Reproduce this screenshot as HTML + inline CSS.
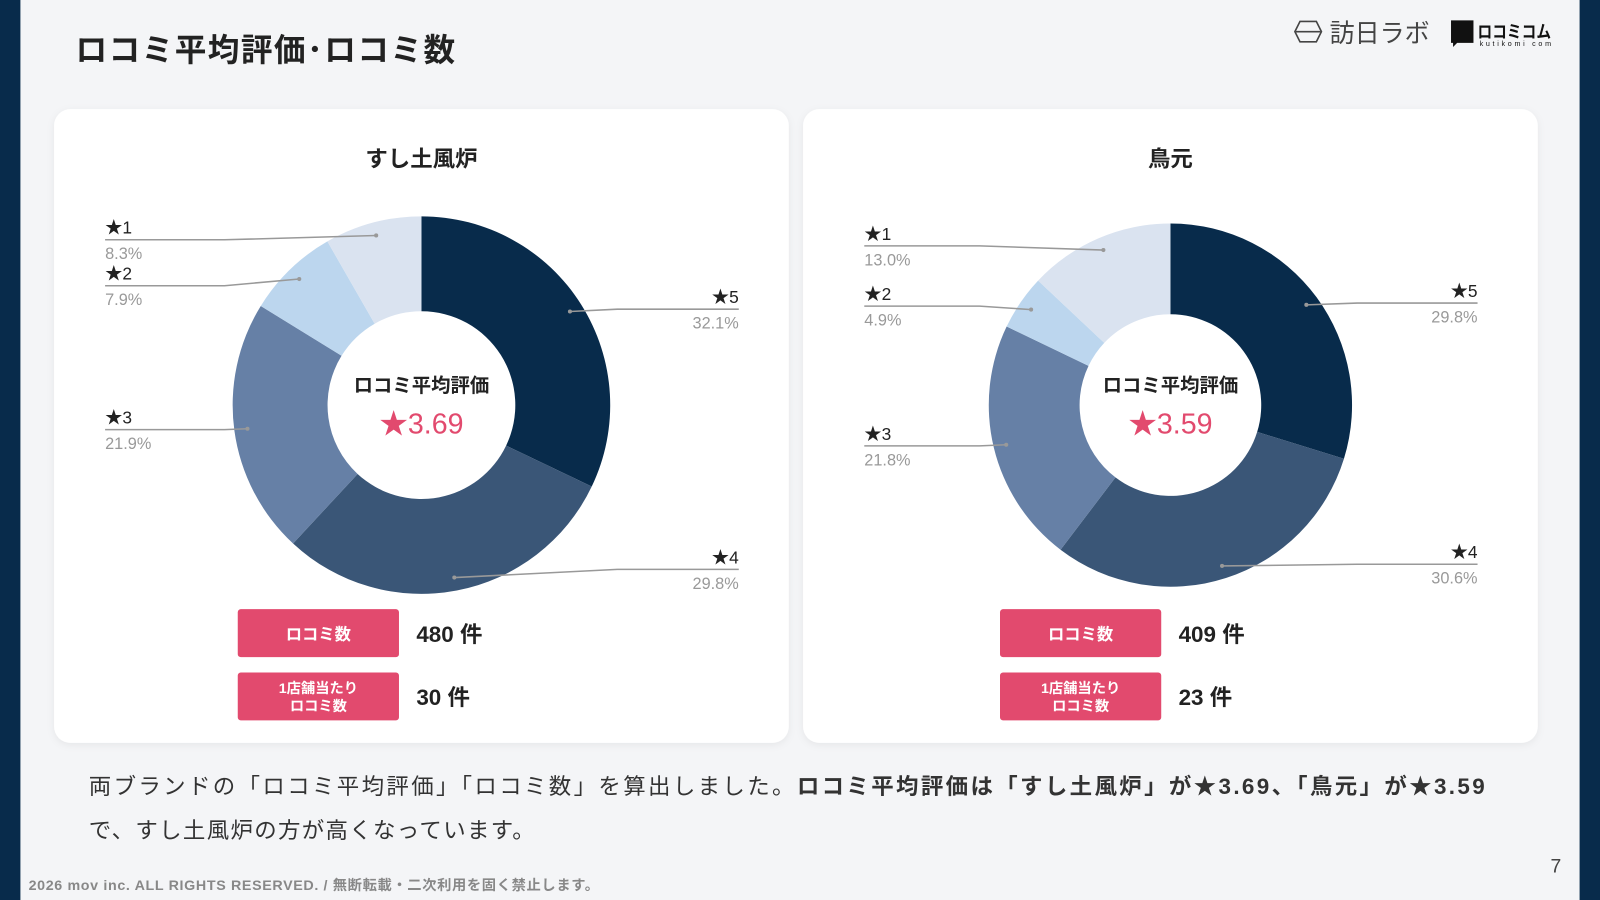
<!DOCTYPE html>
<html><head><meta charset="utf-8">
<style>
html,body{margin:0;padding:0;background:#f4f5f7;}
svg{display:block;font-family:"Liberation Sans","Noto Sans CJK JP",sans-serif;}
</style></head>
<body>
<svg id="root" width="1600" height="900" viewBox="0 0 1568 882" preserveAspectRatio="none" xmlns="http://www.w3.org/2000/svg">
<defs>
<filter id="sh" x="-5%" y="-5%" width="110%" height="110%"><feDropShadow dx="0" dy="2" stdDeviation="4" flood-color="#000" flood-opacity="0.06"/></filter>
</defs>
<rect x="0" y="0" width="1568" height="882" fill="#f4f5f7"/>
<rect x="0" y="0" width="20" height="882" fill="#082b4b"/>
<rect x="1548" y="0" width="20" height="882" fill="#082b4b"/>
<text x="74" y="60" font-size="31" font-weight="bold" fill="#222" textLength="372" lengthAdjust="spacing">ロコミ平均評価･ロコミ数</text>
<g>
<polygon points="1274,21 1290,21 1295,31 1290,41 1274,41 1269,31" fill="none" stroke="#444" stroke-width="1.6"/>
<line x1="1270" y1="31" x2="1294" y2="31" stroke="#444" stroke-width="1.6"/>
<text x="1303" y="41" font-size="25" fill="#444" textLength="98" lengthAdjust="spacingAndGlyphs">訪日ラボ</text>
</g>
<g>
<path d="M1422,20 h22 v22 h-16 l-4,4 v-4 h-2 z" fill="#111"/>
<text x="1448" y="37" font-size="17" font-weight="bold" fill="#111" textLength="72" lengthAdjust="spacingAndGlyphs">ロコミコム</text>
<text x="1450" y="45" font-size="7" fill="#111" textLength="70" lengthAdjust="spacing">kutikomi com</text>
</g>
<rect x="53" y="107" width="720" height="621" rx="16" fill="#fff" filter="url(#sh)"/>
<rect x="787" y="107" width="720" height="621" rx="16" fill="#fff" filter="url(#sh)"/>
<g id="charts"></g>
<g font-size="22" fill="#333">
<text x="87" y="778" textLength="1368" lengthAdjust="spacing">両ブランドの「ロコミ平均評価」「ロコミ数」を算出しました。<tspan font-weight="bold">ロコミ平均評価は「すし土風炉」が★3.69、「鳥元」が★3.59</tspan></text>
<text x="87" y="821" textLength="437" lengthAdjust="spacing">で、すし土風炉の方が高くなっています。</text>
</g>
<text x="28" y="872" font-size="14" fill="#888" font-weight="bold" textLength="559" lengthAdjust="spacing">2026 mov inc. ALL RIGHTS RESERVED. / 無断転載・二次利用を固く禁止します。</text>
<text x="1530" y="855" font-size="19" fill="#444" text-anchor="end">7</text>
</svg>
<script>
// chart data
const categories = ["★5","★4","★3","★2","★1"];
const sushiValues = [32.1, 29.8, 21.9, 7.9, 8.3];
const toriValues = [29.8, 30.6, 21.8, 4.9, 13.0];
const brandNames = ["すし土風炉","鳥元"];
const avgRatings = ["★3.69","★3.59"];
const reviewCounts = [480, 409];
const perStoreCounts = [30, 23];

const colors = ["#082b4b","#3a5677","#6680a6","#bcd6ee","#dae3f0"];
const NS = "http://www.w3.org/2000/svg";
const root = document.getElementById('charts');
function mk(tag, attrs, parent){const e=document.createElementNS(NS,tag);for(const k in attrs)e.setAttribute(k,attrs[k]);(parent||root).appendChild(e);return e;}

// layout (not data)
const layouts = [
 {cx:413, cy:397, R:185, r:92, leftX:103, rightX:724, elbowL:220, elbowR:605, lineY:[303,558,421,280,235], bx:233},
 {cx:1147, cy:397, R:178, r:89, leftX:847, rightX:1448, elbowL:960, elbowR:1330, lineY:[297,553,437,300,241], bx:980}
];
const allValues = [sushiValues, toriValues];

function angleToXY(cx,cy,rad,a){return [cx+rad*Math.sin(a), cy-rad*Math.cos(a)];}

allValues.forEach((vals, ci) => {
  const L = layouts[ci];
  const g = mk('g', {});
  
  
  const total = vals.reduce((s,v)=>s+v,0);
  let a0 = 0;
  vals.forEach((v, i) => {
    const a1 = a0 + v/total*2*Math.PI;
    const [x0,y0]=angleToXY(L.cx,L.cy,L.R,a0),[x1,y1]=angleToXY(L.cx,L.cy,L.R,a1);
    const [x2,y2]=angleToXY(L.cx,L.cy,L.r,a1),[x3,y3]=angleToXY(L.cx,L.cy,L.r,a0);
    const large = (a1-a0)>Math.PI?1:0;
    const p = mk('path', {d:`M${x0},${y0} A${L.R},${L.R} 0 ${large} 1 ${x1},${y1} L${x2},${y2} A${L.r},${L.r} 0 ${large} 0 ${x3},${y3} Z`, fill:colors[i]}, g);
    
    
    const am = (a0+a1)/2;
    const [dx,dy] = angleToXY(L.cx,L.cy,L.R*0.93,am);
    const right = Math.sin(am) > 0;
    const ly = L.lineY[i];
    const lx = right ? L.rightX : L.leftX;
    const ex = right ? L.elbowR : L.elbowL;
    const ln = mk('polyline', {points:`${lx},${ly} ${ex},${ly} ${dx},${dy}`, fill:'none', stroke:'#999', 'stroke-width':1.5}, g);
    
    
    mk('circle', {cx:dx, cy:dy, r:2, fill:'#999'}, g);
    const anchor = right ? 'end' : 'start';
    const t1 = mk('text', {x:lx, y:ly-6, 'font-size':17, fill:'#222', 'text-anchor':anchor}, g);
    t1.textContent = categories[i];
    
    
    const t2 = mk('text', {x:lx, y:ly+19, 'font-size':16, fill:'#999', 'text-anchor':anchor}, g);
    t2.textContent = v.toFixed(1) + '%';
    
    
    a0 = a1;
  });
  const title = mk('text', {x:L.cx, y:163, 'font-size':22, 'font-weight':'bold', fill:'#222', 'text-anchor':'middle'}, g);
  title.textContent = brandNames[ci];
  
  
  const c1 = mk('text', {x:L.cx, y:384, 'font-size':19, 'font-weight':'bold', fill:'#222', 'text-anchor':'middle'}, g);
  c1.textContent = 'ロコミ平均評価';
  
  
  const c2 = mk('text', {x:L.cx, y:425, 'font-size':28, fill:'#e24a6e', 'text-anchor':'middle'}, g);
  c2.textContent = avgRatings[ci];
  
  
  const bx = L.bx;
  const b1 = mk('rect', {x:bx, y:597, width:158, height:47, rx:3, fill:'#e24a6e'}, g);
  
  
  const bt1 = mk('text', {x:bx+79, y:627, 'font-size':16, 'font-weight':'bold', fill:'#fff', 'text-anchor':'middle'}, g);
  bt1.textContent = 'ロコミ数';
  const b2 = mk('rect', {x:bx, y:659, width:158, height:47, rx:3, fill:'#e24a6e'}, g);
  
  
  const bt2 = mk('text', {x:bx+79, y:679, 'font-size':14, 'font-weight':'bold', fill:'#fff', 'text-anchor':'middle'}, g);
  bt2.textContent = '1店舗当たり';
  const bt3 = mk('text', {x:bx+79, y:697, 'font-size':14, 'font-weight':'bold', fill:'#fff', 'text-anchor':'middle'}, g);
  bt3.textContent = 'ロコミ数';
  const v1 = mk('text', {x:bx+175, y:629, 'font-size':22, 'font-weight':'bold', fill:'#222'}, g);
  v1.textContent = reviewCounts[ci] + ' 件';
  
  
  const v2 = mk('text', {x:bx+175, y:691, 'font-size':22, 'font-weight':'bold', fill:'#222'}, g);
  v2.textContent = perStoreCounts[ci] + ' 件';
  
  
});
</script>
</body></html>
